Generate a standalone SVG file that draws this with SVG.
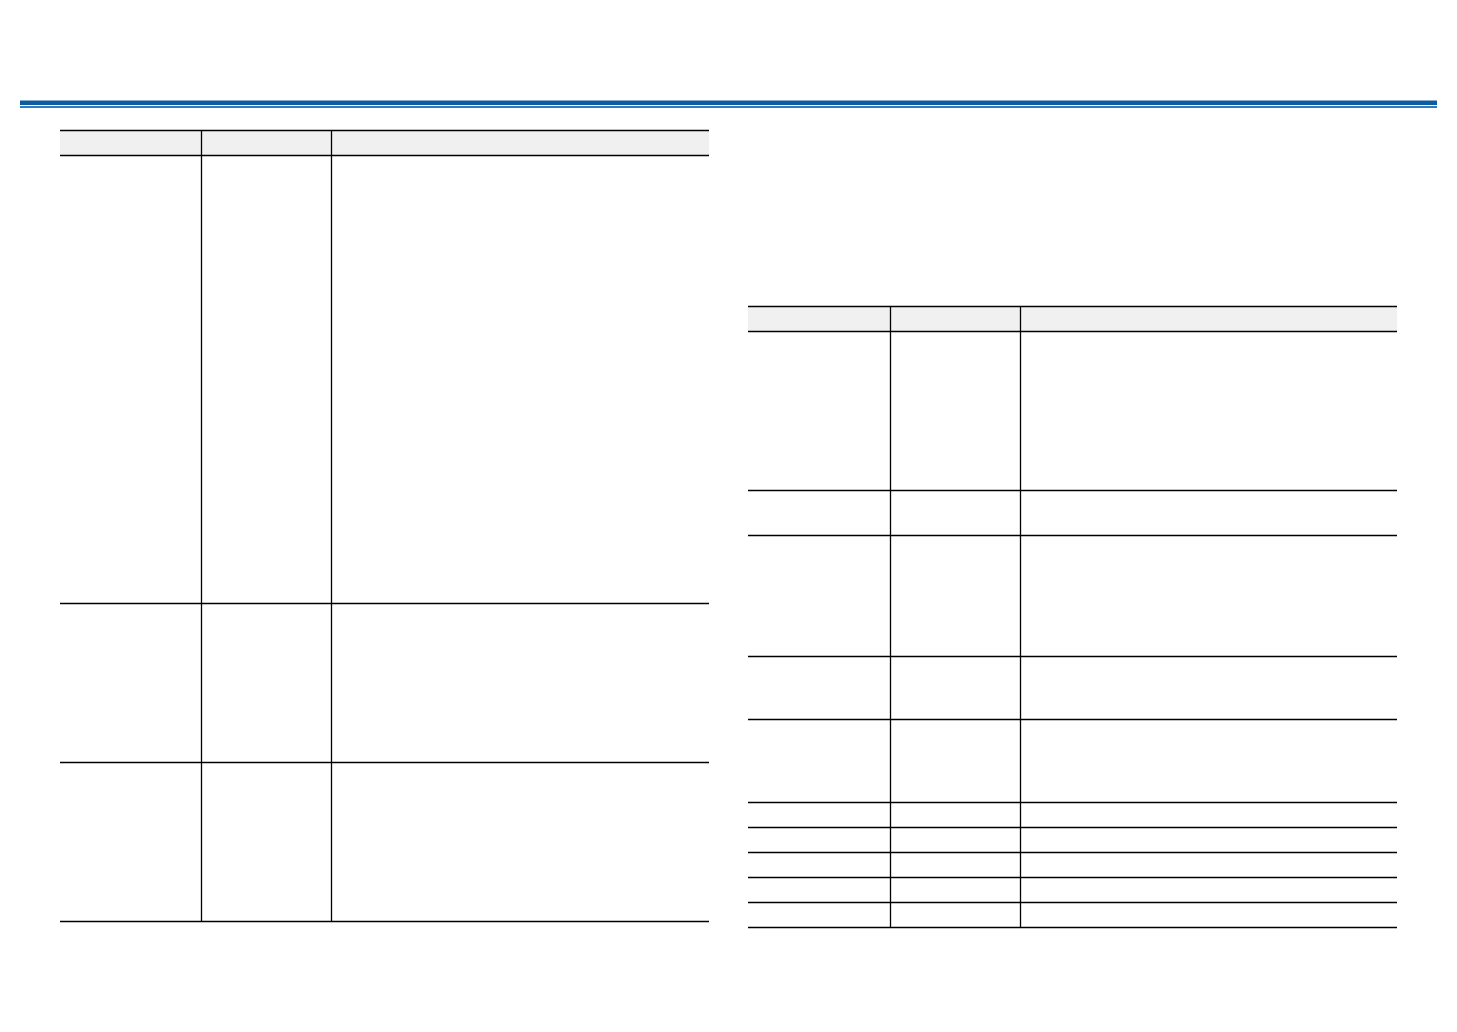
<svg xmlns="http://www.w3.org/2000/svg" width="1457" height="1032" viewBox="0 0 1457 1032">
<style>
.h{stroke:#000;stroke-width:1.5;fill:none}
.v{stroke:#000;stroke-width:1.3;fill:none}
.hd{fill:#f0f0f0}
</style>
<rect width="1457" height="1032" fill="#fff"/>
<g id="topbar">
<rect x="20" y="100.5" width="1417" height="4.5" fill="#0f5b9f"/>
<rect x="20" y="106" width="1417" height="2" fill="#2c7cc4"/>
</g>
<g id="table-left">
<rect class="hd" x="60" y="131" width="649" height="24"/>
<path class="h" d="M60 130.5H709M60 155.5H709M60 603.5H709M60 762.5H709M60 921.5H709"/>
<path class="v" d="M201.5 131V921M331.5 131V921"/>
</g>
<g id="table-right">
<rect class="hd" x="748" y="307" width="649" height="24"/>
<path class="h" d="M748 306.5H1397M748 331.5H1397M748 490.5H1397M748 535.5H1397M748 656.5H1397M748 719.5H1397M748 802.5H1397M748 827.5H1397M748 852.5H1397M748 877.5H1397M748 902.5H1397M748 927.5H1397"/>
<path class="v" d="M890.5 307V927M1020.5 307V927"/>
</g>
</svg>
